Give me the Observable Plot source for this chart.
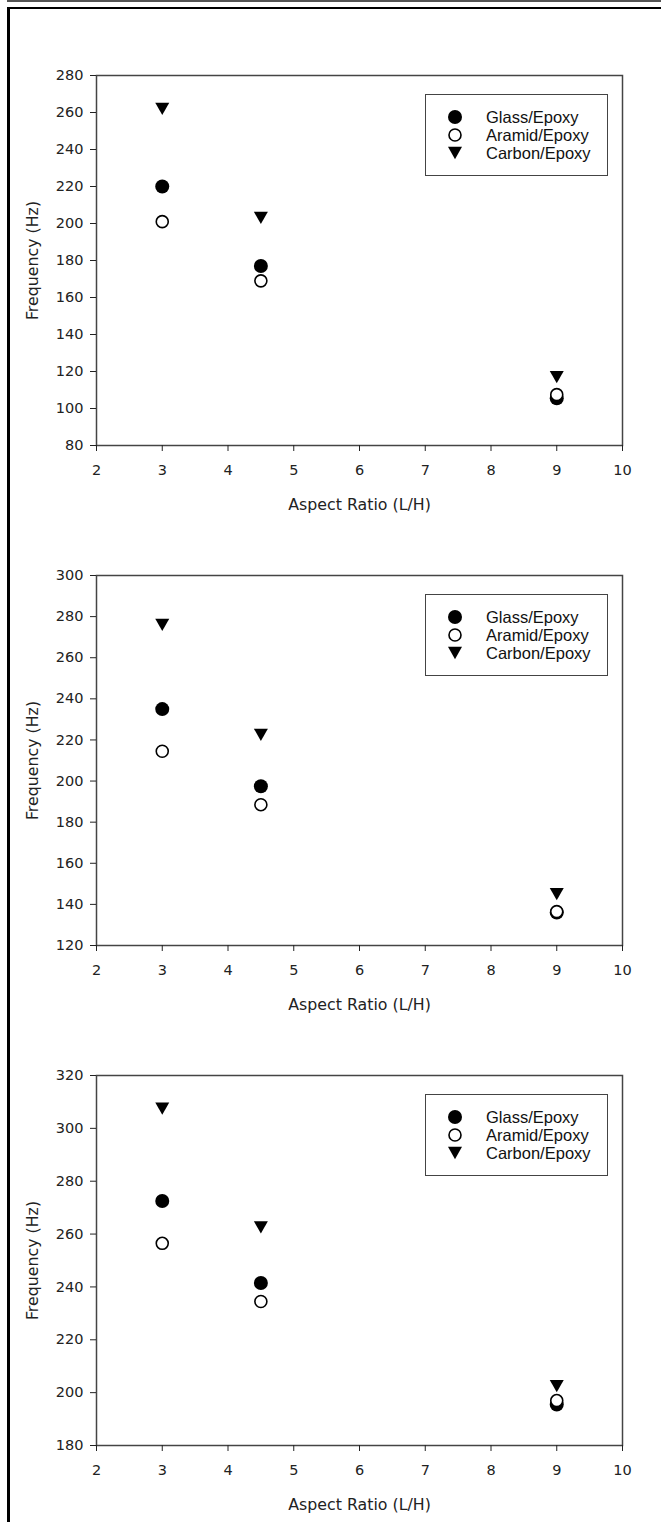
<!DOCTYPE html>
<html>
<head>
<meta charset="utf-8">
<script src="https://cdn.jsdelivr.net/npm/d3@7"></script>
<script src="https://cdn.jsdelivr.net/npm/@observablehq/plot@0.6"></script>
<style>
  html, body { margin: 0; padding: 0; background: #fff; }
  body { position: relative; width: 661px; height: 1522px; overflow: hidden; }
  #topline { position: absolute; left: 7px; top: 0; width: 654px; height: 2px; background: #555; }
  #box { position: absolute; left: 7px; top: 7px; right: -4px; bottom: -4px;
         border-left: 3px solid #000; border-top: 2px solid #000; }
  .panel { position: absolute; left: 0; }
  .panel svg [aria-label$="tick label"] { font-size: 14.5px; }
  .panel svg [aria-label$="axis label"] { font-size: 15.8px; }
  .legend { position: absolute; left: 425px; width: 181px; height: 80px;
            border: 1.5px solid #444; background: #fff; }
</style>
</head>
<body>
<div id="topline"></div>
<div id="box"></div>
<div id="charts"></div>
<script>
// Natural frequency vs. aspect ratio for three composite beams
const aspectRatio = [3, 4.5, 9];
const seriesNames = ["Glass/Epoxy", "Aramid/Epoxy", "Carbon/Epoxy"];

// Panel 1
const glassA  = [220, 177, 105.5];
const aramidA = [201, 169, 107.5];
const carbonA = [262, 203, 117];
// Panel 2
const glassB  = [235, 197.5, 136];
const aramidB = [214.5, 188.5, 136.5];
const carbonB = [276, 222.5, 145];
// Panel 3
const glassC  = [272.5, 241.5, 195.5];
const aramidC = [256.5, 234.5, 197];
const carbonC = [307.5, 262.5, 202.5];

const xTicks = [2, 3, 4, 5, 6, 7, 8, 9, 10];
const yDomains = [[80, 280], [120, 300], [180, 320]];

const panels = [
  {glass: glassA, aramid: aramidA, carbon: carbonA},
  {glass: glassB, aramid: aramidB, carbon: carbonB},
  {glass: glassC, aramid: aramidC, carbon: carbonC}
];

// Downward-pointing filled triangle, sized from the dot radius
const triangleDown = {
  draw(context, size) {
    const r = Math.sqrt(size / Math.PI);
    const w = r, h = r * 0.88;
    context.moveTo(-w, -h);
    context.lineTo(w, -h);
    context.lineTo(0, h);
    context.closePath();
  }
};

const toRows = (values) => aspectRatio.map((a, i) => ({a, f: values[i]}));

const charts = document.getElementById("charts");

panels.forEach((p, k) => {
  const [lo, hi] = yDomains[k];
  const yTicks = d3.range(lo, hi + 1, 20);
  const chart = Plot.plot({
    width: 661,
    height: 500,
    marginLeft: 96,
    marginRight: 39,
    marginTop: 55,
    marginBottom: 75,
    style: {fontFamily: "'DejaVu Sans', sans-serif", fontSize: "14px", color: "#222", background: "transparent", overflow: "visible"},
    x: {domain: [2, 10]},
    y: {domain: [lo, hi]},
    marks: [
      Plot.frame({stroke: "#444", strokeWidth: 1.5}),
      Plot.axisX({ticks: xTicks, tickSize: 6, tickPadding: 13, tickFormat: d => String(d),
                  label: "Aspect Ratio (L/H)", labelAnchor: "center", labelOffset: 64, labelArrow: "none"}),
      Plot.axisY({ticks: yTicks, tickSize: 6, tickPadding: 7, tickFormat: d => String(d),
                  label: "Frequency (Hz)", labelAnchor: "center", labelOffset: 70, labelArrow: "none"}),
      Plot.dot(toRows(p.glass), {x: "a", y: "f", r: 7, fill: "#000", stroke: "none"}),
      Plot.dot(toRows(p.aramid), {x: "a", y: "f", r: 6, fill: "#fff", stroke: "#000", strokeWidth: 1.6}),
      Plot.dot(toRows(p.carbon), {x: "a", y: "f", r: 7, symbol: triangleDown, fill: "#000", stroke: "none"})
    ]
  });
  const wrap = document.createElement("div");
  wrap.className = "panel";
  wrap.style.top = (20 + 500 * k) + "px";
  wrap.appendChild(chart);
  charts.appendChild(wrap);

  // Legend box in the upper right of the plot area
  const leg = document.createElement("div");
  leg.className = "legend";
  leg.style.top = (94 + 500 * k) + "px";
  charts.appendChild(leg);
  const svg = d3.select(leg).append("svg").attr("width", 181).attr("height", 80)
    .style("display", "block");
  const styles = [
    {symbol: d3.symbolCircle, r: 7, fill: "#000", stroke: "none"},
    {symbol: d3.symbolCircle, r: 6, fill: "#fff", stroke: "#000"},
    {symbol: triangleDown, r: 7, fill: "#000", stroke: "none"}
  ];
  seriesNames.forEach((name, i) => {
    const s = styles[i];
    const cy = 22 + 18 * i;
    svg.append("path")
      .attr("transform", `translate(29,${cy})`)
      .attr("d", d3.symbol(s.symbol, s.r * s.r * Math.PI)())
      .attr("fill", s.fill).attr("stroke", s.stroke).attr("stroke-width", 1.6);
    svg.append("text")
      .attr("x", 60).attr("y", cy).attr("dy", "0.35em")
      .attr("font-family", "'Liberation Sans', Arial, sans-serif")
      .attr("font-size", 16.5).attr("fill", "#111")
      .text(name);
  });
});
</script>
</body>
</html>
